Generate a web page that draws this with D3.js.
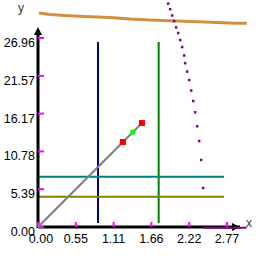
<!DOCTYPE html>
<html>
<head>
<meta charset="utf-8">
<script src="https://cdn.jsdelivr.net/npm/d3@7"></script>
<style>
    body { margin: 0; background: #fff; }
    text { font-family: "Liberation Sans", Arial, sans-serif; }
</style>
</head>
<body>
<svg id="plot" width="265" height="265"></svg>
<script>
// tick values and labels
const xTicks = [0, 0.5545, 1.109, 1.6635, 2.218, 2.7725];
const xTickLabels = ["0.00", "0.55", "1.11", "1.66", "2.22", "2.77"];
const yTicks = [0, 5.3915, 10.783, 16.1745, 21.566, 26.9575];
const yTickLabels = ["0.00", "5.39", "10.78", "16.17", "21.57", "26.96"];

// orange curve across the top
const curveX = [0.015, 0.176, 0.396, 0.689, 1.055, 1.348, 1.642, 2.037, 2.448, 2.902, 3.063];
const curveY = [30.53, 30.31, 30.17, 30.03, 29.89, 29.67, 29.53, 29.39, 29.24, 29.06, 29.06];

// purple dotted points
const dotX = [1.906, 1.935, 1.965, 1.994, 2.023, 2.053, 2.082, 2.111, 2.141, 2.155, 2.185, 2.214, 2.243, 2.273, 2.302, 2.331, 2.361, 2.390, 2.419];
const dotY = [31.9, 31.1, 30.2, 29.4, 28.5, 27.7, 26.7, 25.7, 24.5, 23.4, 22.2, 21.0, 19.5, 18.0, 16.4, 14.4, 12.3, 9.6, 5.6];
// purple segment along the x axis
const baseX = [2.42, 3.06];
const baseY = [-0.1, -0.1];

// vertical lines
const vLineX = [0.88, 1.77];
const vLineY = [0.57, 26.39];
// horizontal lines
const hLineY = [7.17, 4.32];
const hLineX = [0, 2.73];

// diagonal segment and its markers
const segX = [0, 1.525];
const segY = [0, 14.83];
const redX = [1.246, 1.525];
const redY = [12.12, 14.83];
const greenX = [1.393];
const greenY = [13.54];

const svg = d3.select("svg#plot");
const width = +svg.attr("width");
const height = +svg.attr("height");
const margin = { top: 38, right: 38, bottom: 38, left: 38 };

const xScale = d3.scaleLinear().domain([0, 2.7725]).range([margin.left, width - margin.right]);
const yScale = d3.scaleLinear().domain([0, 26.9575]).range([height - margin.bottom, margin.top]);

const line = d3.line().x(d => xScale(d[0])).y(d => yScale(d[1]));
const zip = (a, b) => a.map((v, i) => [v, b[i]]);

let marks = svg.append("g").attr("id", "marks");
let annotations = svg.append("g").attr("id", "annotations");

// axes
const x0 = xScale(0), y0 = yScale(0);
annotations.append("line")
    .attr("x1", x0).attr("y1", y0).attr("x2", 240).attr("y2", y0)
    .attr("stroke", "#000").attr("stroke-width", 3);
annotations.append("path")
    .attr("d", `M240,${y0} L232,${y0 - 4} L232,${y0 + 4} Z`)
    .attr("fill", "#000");
annotations.append("line")
    .attr("x1", x0).attr("y1", y0 + 1).attr("x2", x0).attr("y2", 33)
    .attr("stroke", "#000").attr("stroke-width", 3);
annotations.append("path")
    .attr("d", `M${x0},27 L${x0 - 4},35 L${x0 + 4},35 Z`)
    .attr("fill", "#000");

// ticks
annotations.selectAll(".xtick")
    .data(xTicks)
    .join("line")
    .attr("class", "xtick")
    .attr("x1", d => xScale(d)).attr("x2", d => xScale(d))
    .attr("y1", y0).attr("y2", y0 - 5)
    .attr("stroke", "#ff00ff").attr("stroke-width", 2);
annotations.selectAll(".ytick")
    .data(yTicks)
    .join("line")
    .attr("class", "ytick")
    .attr("x1", x0).attr("x2", x0 + 6)
    .attr("y1", d => yScale(d)).attr("y2", d => yScale(d))
    .attr("stroke", "#ff00ff").attr("stroke-width", 2);

annotations.selectAll(".xlabel")
    .data(xTicks)
    .join("text")
    .attr("class", "xlabel")
    .attr("x", (d, i) => xScale(d) + (i === 0 ? 3 : 0))
    .attr("y", y0 + 16)
    .attr("text-anchor", "middle")
    .attr("font-size", 12.5)
    .text((d, i) => xTickLabels[i]);
annotations.selectAll(".ylabel")
    .data(yTicks)
    .join("text")
    .attr("class", "ylabel")
    .attr("x", 35)
    .attr("y", d => yScale(d) + 9)
    .attr("text-anchor", "end")
    .attr("font-size", 12.5)
    .text((d, i) => yTickLabels[i]);

annotations.append("text")
    .attr("x", 18).attr("y", 12)
    .attr("font-size", 12).attr("fill", "#333355")
    .text("y");
annotations.append("text")
    .attr("x", 246).attr("y", 227)
    .attr("font-size", 12).attr("fill", "#333355")
    .text("x");

// vertical and horizontal lines
const vColors = ["#000080", "#008000"];
vLineX.forEach((v, i) => {
    marks.append("line")
        .attr("x1", xScale(v)).attr("x2", xScale(v))
        .attr("y1", yScale(vLineY[0])).attr("y2", yScale(vLineY[1]))
        .attr("stroke", vColors[i]).attr("stroke-width", 2);
});
const hColors = ["#008080", "#808000"];
hLineY.forEach((v, i) => {
    marks.append("line")
        .attr("x1", xScale(hLineX[0])).attr("x2", xScale(hLineX[1]))
        .attr("y1", yScale(v)).attr("y2", yScale(v))
        .attr("stroke", hColors[i]).attr("stroke-width", 2);
});

// orange curve
svg.append("path")
    .datum(zip(curveX, curveY))
    .attr("fill", "none")
    .attr("stroke", "#d0903f")
    .attr("stroke-width", 3)
    .attr("d", line);

// diagonal segment
svg.append("path")
    .datum(zip(segX, segY))
    .attr("fill", "none")
    .attr("stroke", "#808080")
    .attr("stroke-width", 2)
    .attr("d", line);

// purple dots + base segment
svg.selectAll(".dot")
    .data(zip(dotX, dotY))
    .join("rect")
    .attr("class", "dot")
    .attr("x", d => xScale(d[0]) - 1)
    .attr("y", d => yScale(d[1]) - 1)
    .attr("width", 2.5).attr("height", 2.5)
    .attr("fill", "#800080");
svg.append("path")
    .datum(zip(baseX, baseY))
    .attr("fill", "none")
    .attr("stroke", "#800080")
    .attr("stroke-width", 2)
    .attr("d", line);
svg.append("line")
    .attr("x1", xScale(2.77)).attr("x2", xScale(2.77))
    .attr("y1", y0 - 5).attr("y2", y0)
    .attr("stroke", "#ff00ff").attr("stroke-width", 2);

// markers
svg.selectAll(".red")
    .data(zip(redX, redY))
    .join("rect")
    .attr("class", "red")
    .attr("x", d => xScale(d[0]) - 3)
    .attr("y", d => yScale(d[1]) - 3)
    .attr("width", 6).attr("height", 6)
    .attr("fill", "#ff0000");
svg.selectAll(".redmark")
    .data(zip(redX, redY))
    .join("line")
    .attr("class", "redmark")
    .attr("x1", d => xScale(d[0]) - 2).attr("x2", d => xScale(d[0]) + 1)
    .attr("y1", d => yScale(d[1])).attr("y2", d => yScale(d[1]))
    .attr("stroke", "#c00000").attr("stroke-width", 1);
svg.selectAll(".green")
    .data(zip(greenX, greenY))
    .join("rect")
    .attr("class", "green")
    .attr("x", d => xScale(d[0]) - 2.5)
    .attr("y", d => yScale(d[1]) - 2.5)
    .attr("width", 5).attr("height", 5)
    .attr("fill", "#00ff00");
</script>
</body>
</html>
